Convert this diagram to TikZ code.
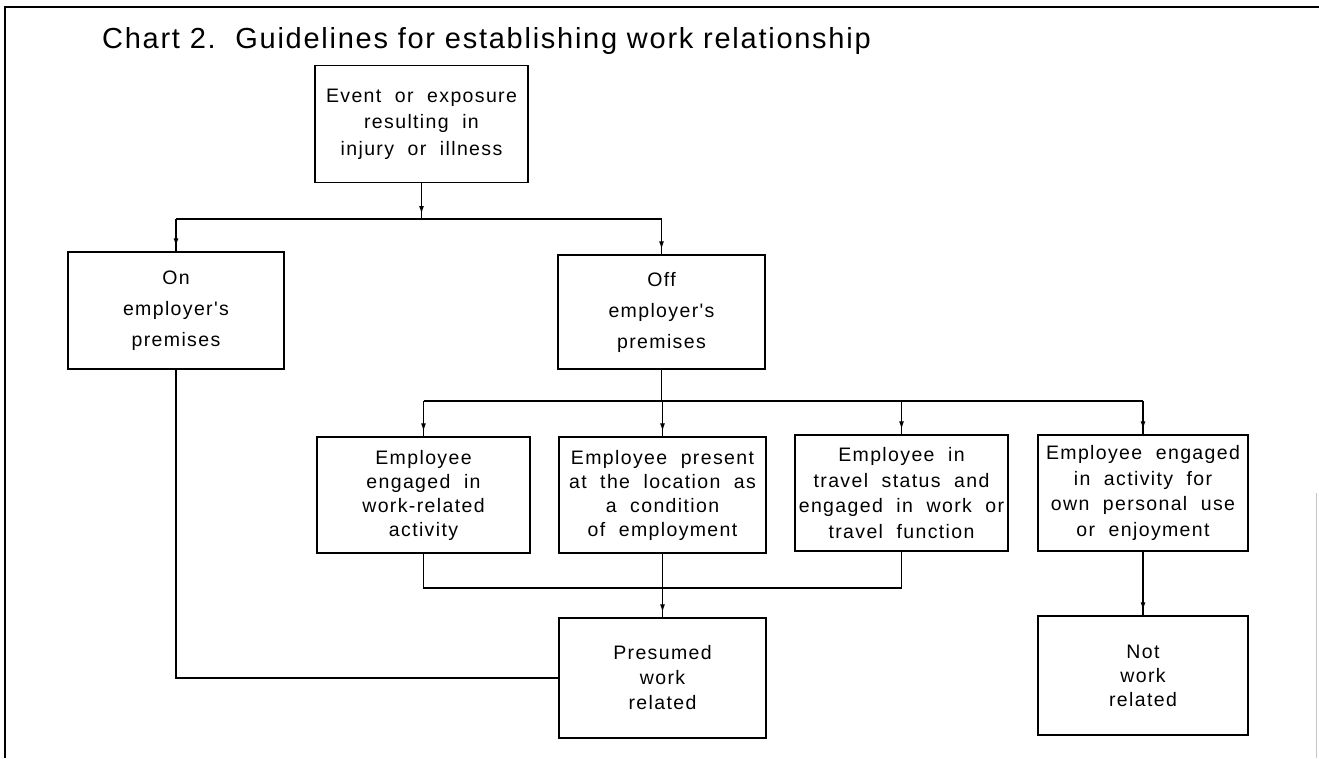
\documentclass[tikz,border=0pt]{standalone}
\usepackage{fontspec}
\setmainfont{Liberation Sans}
\newfontfamily\boxfont{Liberation Sans}[LetterSpace=7,WordSpace=2]
\newfontfamily\ttlfont{Liberation Sans}[LetterSpace=6]
\usetikzlibrary{arrows.meta,decorations.markings}
\tikzset{
  frameline/.style={line width=1.4pt},
  conn/.style={line width=1.3pt},
  nearend/.style={conn, postaction={decorate}, decoration={markings,
      mark=at position -5pt with {\arrow{Latex[length=8pt,width=5pt]}}}},
  fbox/.style={draw, line width=1.4pt, inner sep=0pt, align=center,
      font=\boxfont\fontsize{19.5}{26.5}\selectfont},
}
\begin{document}
\begin{tikzpicture}[x=1pt,y=-1pt]
\useasboundingbox (0,0) rectangle (1319,758);
% frame
\draw[frameline] (1319,7) -- (5,7) -- (5,758);
\draw[gray!45, line width=0.8pt] (1316,493) -- (1316,758);
% title
\node[anchor=base west, inner sep=0pt, font=\ttlfont\fontsize{29}{34}\selectfont] (title) at (102,48)
  {Chart 2.\ \ Guidelines for establishing work relationship};
% boxes
\node[fbox, minimum width=213pt, minimum height=117pt] (ev) at (421.5,124)
  {Event or exposure\\resulting in\\injury or illness};
\node[fbox, minimum width=216pt, minimum height=117pt, font=\boxfont\fontsize{19.5}{31}\selectfont] (on) at (176,310.5)
  {On\\employer's\\premises};
\node[fbox, minimum width=207pt, minimum height=114pt, font=\boxfont\fontsize{19.5}{31}\selectfont] (off) at (661.5,312)
  {Off\\employer's\\premises};
\node[fbox, minimum width=213pt, minimum height=116pt, font=\boxfont\fontsize{19.5}{24}\selectfont] (b1) at (423.5,495)
  {Employee\\engaged in\\work-related\\activity};
\node[fbox, minimum width=207pt, minimum height=116pt, font=\boxfont\fontsize{19.5}{24}\selectfont] (b2) at (662.5,495)
  {Employee present\\at the location as\\a condition\\of employment};
\node[fbox, minimum width=213pt, minimum height=116pt, font=\boxfont\fontsize{19.5}{25.5}\selectfont] (b3) at (901.5,493)
  {Employee in\\travel status and\\engaged in work or\\travel function};
\node[fbox, minimum width=210pt, minimum height=116pt, font=\boxfont\fontsize{19.5}{25.5}\selectfont] (b4) at (1143,493)
  {Employee engaged\\in activity for\\own personal use\\or enjoyment};
\node[fbox, minimum width=207pt, minimum height=120pt, font=\boxfont\fontsize{19.5}{25}\selectfont] (pr) at (662.5,678)
  {Presumed\\work\\related};
\node[fbox, minimum width=210pt, minimum height=119pt, font=\boxfont\fontsize{19.5}{24}\selectfont] (nw) at (1143,675.5)
  {Not\\work\\related};
% junctions
\coordinate (j1) at (421.5,219);
\coordinate (j2) at (661.5,401);
\coordinate (j3) at (662.5,588);
% connectors
\draw[nearend] (ev.south) -- (j1);
\draw[conn] (on.north |- j1) -- (off.north |- j1);
\draw[nearend] (on.north |- j1) -- (on.north);
\draw[nearend] (off.north |- j1) -- (off.north);
\draw[conn] (off.south) -- (j2);
\draw[conn] (b1.north |- j2) -- (b4.north |- j2);
\draw[nearend] (b1.north |- j2) -- (b1.north);
\draw[nearend] (b2.north |- j2) -- (b2.north);
\draw[nearend] (b3.north |- j2) -- (b3.north);
\draw[nearend] (b4.north |- j2) -- (b4.north);
\draw[conn] (b1.south) |- (j3) -| (b3.south);
\draw[conn] (b2.south) -- (j3);
\draw[nearend] (j3) -- (pr.north);
\draw[conn] (on.south) |- (pr.west);
\draw[nearend] (b4.south) -- (nw.north);
\end{tikzpicture}
\end{document}
